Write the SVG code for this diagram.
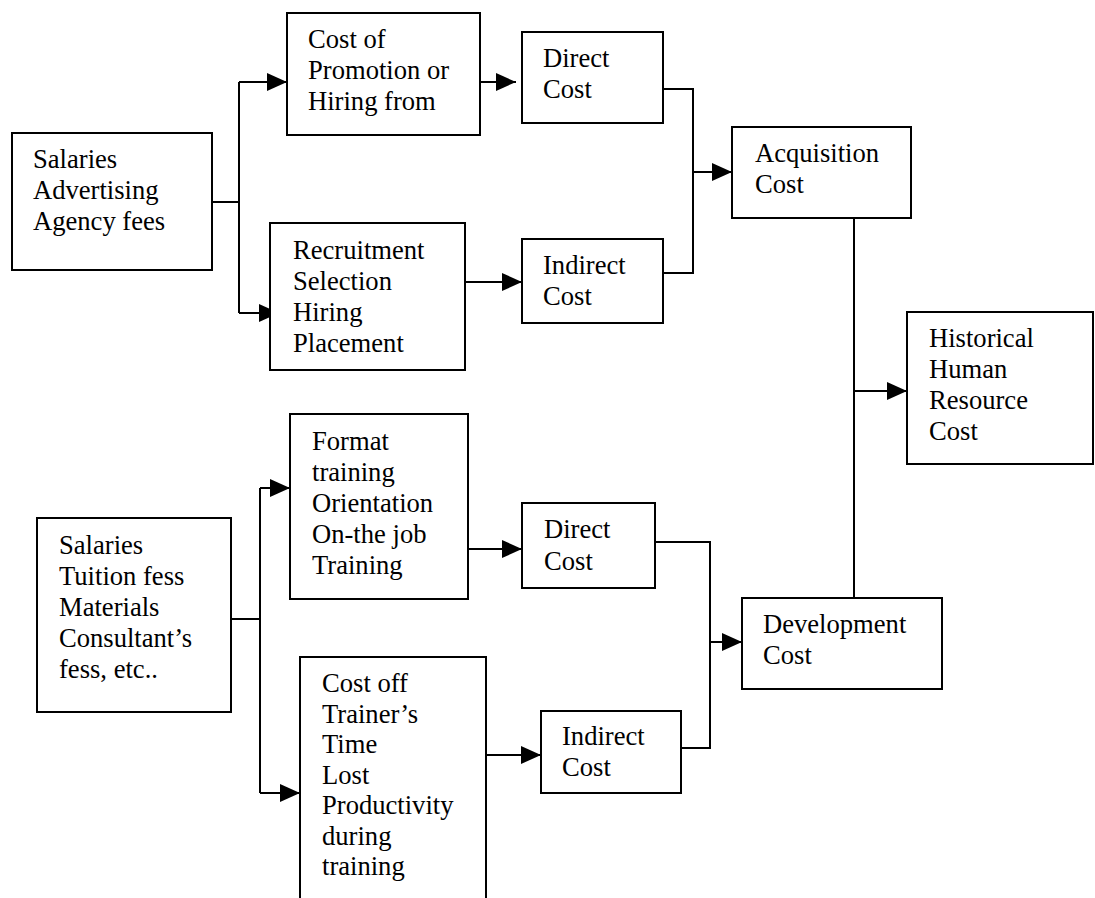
<svg xmlns="http://www.w3.org/2000/svg" width="1095" height="898" viewBox="0 0 1095 898">
<defs>
<marker id="arr" markerUnits="userSpaceOnUse" markerWidth="20" markerHeight="18" refX="20" refY="9" orient="auto">
<path d="M0,0 L20,9 L0,18 z" fill="#000"/>
</marker>
<style>
.box{fill:#fff;stroke:#000;stroke-width:2}
.t{font-family:"Liberation Serif","Times New Roman",serif;font-size:26.6px;fill:#000}
.ln{fill:none;stroke:#000;stroke-width:2}
.ar{fill:none;stroke:#000;stroke-width:2;marker-end:url(#arr)}
</style>
</defs>
<rect width="1095" height="898" fill="#fff"/>
<g id="connectors">
<path class="ln" d="M212,202 H239 M239,82 V313"/>
<path class="ar" d="M239,82 H287"/>
<path class="ar" d="M239,313 H279"/>
<path class="ar" d="M480,82 H516"/>
<path class="ar" d="M465,282 H522"/>
<path class="ln" d="M663,89 H693 V273 H663"/>
<path class="ar" d="M693,172 H732"/>
<path class="ln" d="M854,218 V598"/>
<path class="ar" d="M854,391 H907"/>
<path class="ln" d="M231,619 H260 M260,488 V793"/>
<path class="ar" d="M260,488 H290"/>
<path class="ar" d="M260,793 H300"/>
<path class="ar" d="M468,549 H522"/>
<path class="ar" d="M486,755 H541"/>
<path class="ln" d="M655,542 H710 V748 H681"/>
<path class="ar" d="M710,642 H742"/>
</g>
<g id="n1">
<rect class="box" x="12" y="133" width="200" height="137"/>
<text class="t" x="33" y="168">Salaries</text>
<text class="t" x="33" y="199">Advertising</text>
<text class="t" x="33" y="230">Agency fees</text>
</g>
<g id="n2">
<rect class="box" x="287" y="13" width="193" height="122"/>
<text class="t" x="308" y="48">Cost of</text>
<text class="t" x="308" y="79">Promotion or</text>
<text class="t" x="308" y="110">Hiring from</text>
</g>
<g id="n3">
<rect class="box" x="270" y="223" width="195" height="147"/>
<text class="t" x="293" y="259">Recruitment</text>
<text class="t" x="293" y="290">Selection</text>
<text class="t" x="293" y="321">Hiring</text>
<text class="t" x="293" y="352">Placement</text>
</g>
<g id="n4">
<rect class="box" x="522" y="32" width="141" height="91"/>
<text class="t" x="543" y="67">Direct</text>
<text class="t" x="543" y="98">Cost</text>
</g>
<g id="n5">
<rect class="box" x="522" y="239" width="141" height="84"/>
<text class="t" x="543" y="274">Indirect</text>
<text class="t" x="543" y="305">Cost</text>
</g>
<g id="n6">
<rect class="box" x="732" y="127" width="179" height="91"/>
<text class="t" x="755" y="162">Acquisition</text>
<text class="t" x="755" y="193">Cost</text>
</g>
<g id="n7">
<rect class="box" x="907" y="312" width="186" height="152"/>
<text class="t" x="929" y="347">Historical</text>
<text class="t" x="929" y="378">Human</text>
<text class="t" x="929" y="409">Resource</text>
<text class="t" x="929" y="440">Cost</text>
</g>
<g id="n8">
<rect class="box" x="37" y="518" width="194" height="194"/>
<text class="t" x="59" y="554">Salaries</text>
<text class="t" x="59" y="585">Tuition fess</text>
<text class="t" x="59" y="616">Materials</text>
<text class="t" x="59" y="647">Consultant’s</text>
<text class="t" x="59" y="678">fess, etc..</text>
</g>
<g id="n9">
<rect class="box" x="290" y="414" width="178" height="185"/>
<text class="t" x="312" y="450">Format</text>
<text class="t" x="312" y="481">training</text>
<text class="t" x="312" y="512">Orientation</text>
<text class="t" x="312" y="543">On-the job</text>
<text class="t" x="312" y="574">Training</text>
</g>
<g id="n10">
<rect class="box" x="300" y="657" width="186" height="260"/>
<text class="t" x="322" y="692">Cost off</text>
<text class="t" x="322" y="723">Trainer’s</text>
<text class="t" x="322" y="753">Time</text>
<text class="t" x="322" y="784">Lost</text>
<text class="t" x="322" y="814">Productivity</text>
<text class="t" x="322" y="845">during</text>
<text class="t" x="322" y="875">training</text>
</g>
<g id="n11">
<rect class="box" x="522" y="503" width="133" height="85"/>
<text class="t" x="544" y="538">Direct</text>
<text class="t" x="544" y="570">Cost</text>
</g>
<g id="n12">
<rect class="box" x="541" y="711" width="140" height="82"/>
<text class="t" x="562" y="745">Indirect</text>
<text class="t" x="562" y="776">Cost</text>
</g>
<g id="n13">
<rect class="box" x="742" y="598" width="200" height="91"/>
<text class="t" x="763" y="633">Development</text>
<text class="t" x="763" y="664">Cost</text>
</g>
</svg>
